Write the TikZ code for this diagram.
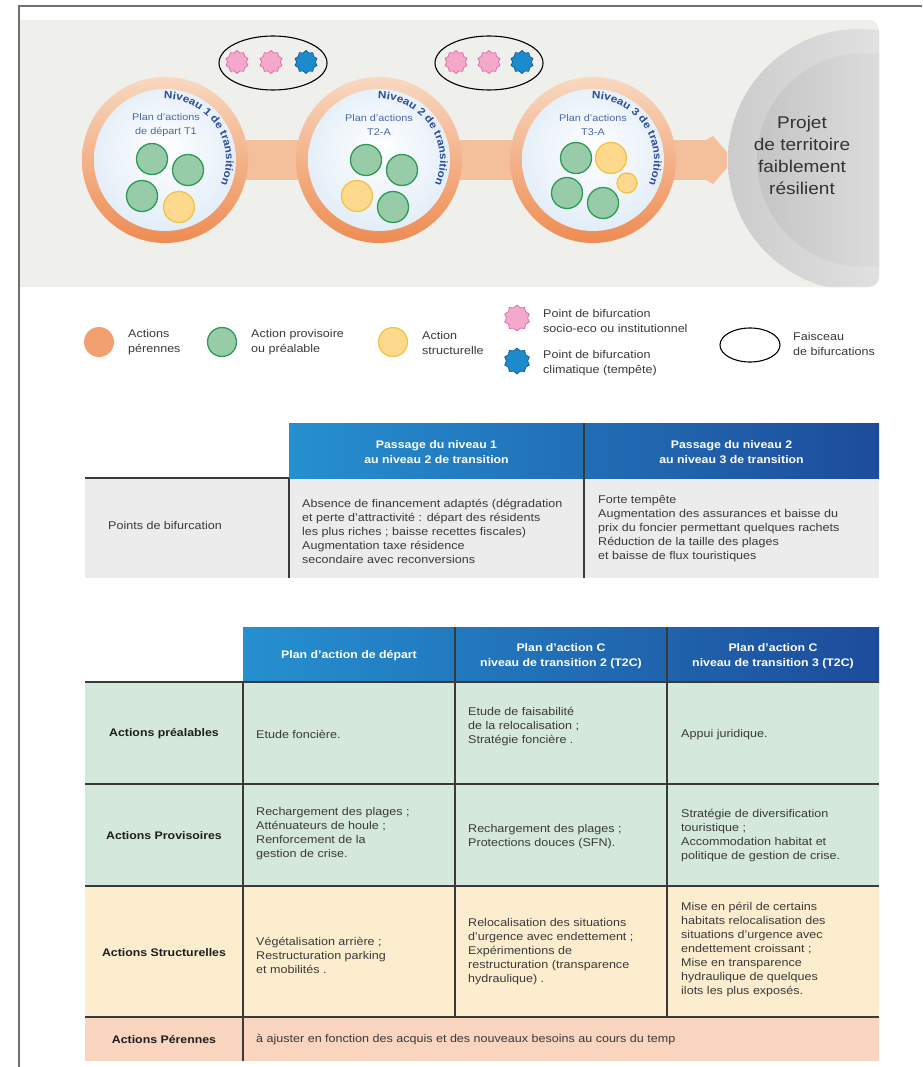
\documentclass[tikz,border=0pt]{standalone}
\usepackage{fontspec}
\setmainfont[FakeStretch=1.12]{Liberation Sans}
\usetikzlibrary{shapes.geometric,decorations.text,calc}
\definecolor{framegray}{HTML}{707070}
\definecolor{panel}{HTML}{EFEFEC}
\definecolor{ringtop}{HTML}{F8D8C0}
\definecolor{ringbot}{HTML}{EE8C52}
\definecolor{bandc}{HTML}{F4C09C}
\definecolor{bubA}{HTML}{E4EEF8}
\definecolor{bubB}{HTML}{A6C5E6}
\definecolor{nivblue}{HTML}{2B4C9B}
\definecolor{planblue}{HTML}{4A68A6}
\definecolor{gfill}{HTML}{98CCA8}
\definecolor{gline}{HTML}{2E9A56}
\definecolor{yfill}{HTML}{FDD98D}
\definecolor{yline}{HTML}{F0C44A}
\definecolor{ofill}{HTML}{F2A070}
\definecolor{pfill}{HTML}{F3A8CC}
\definecolor{pline}{HTML}{E06AA6}
\definecolor{bfill}{HTML}{1B8BCB}
\definecolor{bline}{HTML}{0E5C96}
\definecolor{txt}{HTML}{3A3A3A}
\definecolor{labtxt}{HTML}{1E1E1E}
\definecolor{hdA}{HTML}{2590D0}
\definecolor{hdB}{HTML}{1D4C9B}
\definecolor{rule}{HTML}{3A3A3A}
\definecolor{gray1}{HTML}{ECECEC}
\definecolor{mint}{HTML}{D4E8DB}
\definecolor{cream}{HTML}{FDEDCF}
\definecolor{peach}{HTML}{F9D4BF}
\pgfdeclareradialshading{bubble}{\pgfpoint{0bp}{4bp}}{color(0bp)=(white); color(26bp)=(bubA); color(50bp)=(bubB)}
\newcommand\nivfont{\fontsize{10.5}{10.5}\selectfont\bfseries\color{nivblue}}
\tikzset{
  body/.style={font=\fontsize{11.2}{14}\selectfont, text=txt, align=left, anchor=west, inner sep=0pt},
  rowlab/.style={font=\fontsize{11}{14}\selectfont\bfseries, text=labtxt, anchor=center, inner sep=0pt},
  head/.style={font=\fontsize{11}{15.5}\selectfont\bfseries, text=white, align=center, inner sep=0pt},
  legtxt/.style={font=\fontsize{11.2}{15}\selectfont, text=txt, align=left, anchor=west, inner sep=0pt},
  plantxt/.style={font=\fontsize{9.7}{13.5}\selectfont, text=planblue, align=center, inner sep=0pt},
  gdot/.style={circle, fill=gfill, draw=gline, line width=1.3pt, inner sep=0pt, minimum size=#1},
  ydot/.style={circle, fill=yfill, draw=yline, line width=1.3pt, inner sep=0pt, minimum size=#1},
  pstar/.style={star, star points=10, star point ratio=1.22, fill=pfill, draw=pline, line width=0.7pt, inner sep=0pt, minimum size=#1},
  bstar/.style={star, star points=10, star point ratio=1.22, fill=bfill, draw=bline, line width=0.7pt, inner sep=0pt, minimum size=#1},
  faisc/.style={ellipse, draw=black, line width=1.1pt, inner sep=0pt},
  tabrule/.style={draw=rule, line width=1.2pt},
}
\begin{document}
\begin{tikzpicture}[x=1pt,y=1pt]
\useasboundingbox (0,0) rectangle (922,-1067);
\fill[white] (0,0) rectangle (922,-1067);
% frame
\draw[framegray, line width=1.5pt] (19,-1067) -- (19,-6) -- (922,-6);
% panel
\fill[panel] (20,-20) -- (869,-20) arc[start angle=90, end angle=0, radius=10] -- (879,-277) arc[start angle=0, end angle=-90, radius=10] -- (20,-287) -- cycle;
% grey target circle
\begin{scope}
  \clip (20,-20) -- (869,-20) arc[start angle=90, end angle=0, radius=10] -- (879,-277) arc[start angle=0, end angle=-90, radius=10] -- (20,-287) -- cycle;
  \shade[left color=black!20, right color=black!6] (859,-160) circle (131);
  \shade[left color=black!23, right color=black!7] (864,-160) circle (107);
\end{scope}
\node[font=\fontsize{17}{22}\selectfont, text=black!80, align=center, inner sep=0pt] (projet) at (802,-155) {Projet\\de territoire\\faiblement\\résilient};
% band and arrow
\coordinate (c1) at (165,-160);
\coordinate (c2) at (379,-160);
\coordinate (c3) at (593,-160);
\fill[bandc] (165,-140) rectangle (710,-180);
\fill[bandc] (706,-140) -- (713,-136) -- (727,-152) -- (727,-168) -- (713,-184) -- (706,-180) -- cycle;
% rings
\foreach \c in {c1,c2,c3}{
  \shade[top color=ringtop, bottom color=ringbot] (\c) circle (83);
  \shade[shading=bubble] (\c) circle (71);
}
% curved labels
\path[decorate, decoration={text along path, text align={left indent=0pt}, text={|\nivfont|Niveau 1 de transition}}] ($(c1)+(91:61)$) arc[start angle=91, end angle=-45, radius=61];
\path[decorate, decoration={text along path, text align={left indent=0pt}, text={|\nivfont|Niveau 2 de transition}}] ($(c2)+(91:61)$) arc[start angle=91, end angle=-45, radius=61];
\path[decorate, decoration={text along path, text align={left indent=0pt}, text={|\nivfont|Niveau 3 de transition}}] ($(c3)+(91:61)$) arc[start angle=91, end angle=-45, radius=61];
% plan labels
\node[plantxt] (p1) at (166,-125) {Plan d’actions\\de départ T1};
\node[plantxt] (p2) at (379,-125) {Plan d’actions\\T2-A};
\node[plantxt] (p3) at (593,-125) {Plan d’actions\\T3-A};
% action dots
\node[gdot=31] (a11) at (152,-159) {};
\node[gdot=31] (a12) at (188,-170) {};
\node[gdot=31] (a13) at (142,-196) {};
\node[ydot=31] (a14) at (179,-207) {};
\node[gdot=31] (a21) at (366,-160) {};
\node[gdot=31] (a22) at (402,-170) {};
\node[ydot=31] (a23) at (357,-196) {};
\node[gdot=31] (a24) at (393,-207) {};
\node[gdot=31] (a31) at (576,-158) {};
\node[ydot=31] (a32) at (611,-158) {};
\node[ydot=20] (a33) at (627,-183) {};
\node[gdot=31] (a34) at (567,-193) {};
\node[gdot=31] (a35) at (603,-203) {};
% bifurcation bundles
\node[faisc, minimum width=108, minimum height=54] (f1) at (273,-63) {};
\node[pstar=23] (s11) at (237,-62) {};
\node[pstar=23] (s12) at (271,-62) {};
\node[bstar=23] (s13) at (306,-62) {};
\node[faisc, minimum width=108, minimum height=54] (f2) at (489,-63) {};
\node[pstar=23] (s21) at (456,-62) {};
\node[pstar=23] (s22) at (489,-62) {};
\node[bstar=23] (s23) at (522,-62) {};
% legend
\node[circle, fill=ofill, inner sep=0pt, minimum size=30] (l1) at (99,-342) {};
\node[legtxt] (l1t) at (128,-342.5) {Actions\\pérennes};
\node[gdot=29] (l2) at (222,-342) {};
\node[legtxt] (l2t) at (251,-342.5) {Action provisoire\\ou préalable};
\node[ydot=29] (l3) at (393,-342) {};
\node[legtxt] (l3t) at (422,-342.5) {Action\\structurelle};
\node[pstar=26] (l4) at (517,-318) {};
\node[legtxt] (l4t) at (543,-320.5) {Point de bifurcation\\socio-eco ou institutionnel};
\node[bstar=26] (l5) at (517,-361) {};
\node[legtxt] (l5t) at (543,-363) {Point de bifurcation\\climatique (tempête)};
\node[faisc, minimum width=60, minimum height=34] (l6) at (750,-345) {};
\node[legtxt] (l6t) at (793,-343.5) {Faisceau\\de bifurcations};
% ---------- table 1 ----------
\fill[gray1] (85,-478) rectangle (879,-578);
\shade[left color=hdA, right color=hdB] (289,-423) rectangle (879,-478);
\path[tabrule] (85,-478) -- (289,-478);
\path[tabrule] (289,-478) -- (289,-578);
\path[tabrule] (584,-423) -- (584,-578);
\node[head] (h11) at (436.5,-452) {Passage du niveau 1\\au niveau 2 de transition};
\node[head] (h12) at (731.5,-452) {Passage du niveau 2\\au niveau 3 de transition};
\node[body] (t1l) at (108,-525) {Points de bifurcation};
\node[body] (t11) at (302,-531) {Absence de financement adaptés (dégradation\\et perte d’attractivité : départ des résidents\\les plus riches ; baisse recettes fiscales)\\Augmentation taxe résidence\\secondaire avec reconversions};
\node[body] (t12) at (598,-529) {Forte tempête\\Augmentation des assurances et baisse du\\prix du foncier permettant quelques rachets\\Réduction de la taille des plages\\et baisse de flux touristiques};
% ---------- table 2 ----------
\fill[mint] (85,-682) rectangle (879,-886);
\fill[cream] (85,-886) rectangle (879,-1017);
\fill[peach] (85,-1017) rectangle (879,-1061);
\shade[left color=hdA, right color=hdB] (243,-627) rectangle (879,-682);
\path[tabrule] (85,-682) -- (879,-682);
\path[tabrule] (85,-784) -- (879,-784);
\path[tabrule] (85,-886) -- (879,-886);
\path[tabrule] (85,-1017) -- (879,-1017);
\path[tabrule] (243,-682) -- (243,-1061);
\path[tabrule] (455,-627) -- (455,-1017);
\path[tabrule] (667,-627) -- (667,-1017);
\node[head] (h21) at (349,-656) {Plan d’action de départ};
\node[head] (h22) at (561,-656) {Plan d’action C\\niveau de transition 2 (T2C)};
\node[head] (h23) at (773,-656) {Plan d’action C\\niveau de transition 3 (T2C)};
\node[rowlab] (r1) at (164,-734) {Actions préalables};
\node[rowlab] (r2) at (164,-836) {Actions Provisoires};
\node[rowlab] (r3) at (164,-953) {Actions Structurelles};
\node[rowlab] (r4) at (164,-1040) {Actions Pérennes};
\node[body] (r1a) at (256,-734) {Etude foncière.};
\node[body] (r1b) at (468,-727) {Etude de faisabilité\\de la relocalisation ;\\Stratégie foncière .};
\node[body] (r1c) at (681,-735) {Appui juridique.};
\node[body] (r2a) at (256,-834) {Rechargement des plages ;\\Atténuateurs de houle ;\\Renforcement de la\\gestion de crise.};
\node[body] (r2b) at (468,-837) {Rechargement des plages ;\\Protections douces (SFN).};
\node[body] (r2c) at (681,-836) {Stratégie de diversification\\touristique ;\\Accommodation habitat et\\politique de gestion de crise.};
\node[body] (r3a) at (256,-955) {Végétalisation arrière ;\\Restructuration parking\\et mobilités .};
\node[body] (r3b) at (468,-952) {Relocalisation des situations\\d’urgence avec endettement ;\\Expérimentions de\\restructuration (transparence\\hydraulique) .};
\node[body] (r3c) at (681,-950) {Mise en péril de certains\\habitats relocalisation des\\situations d’urgence avec\\endettement croissant ;\\Mise en transparence\\hydraulique de quelques\\ilots les plus exposés.};
\node[body] (r4a) at (256,-1040) {à ajuster en fonction des acquis et des nouveaux besoins au cours du temp};
\end{tikzpicture}
\end{document}
